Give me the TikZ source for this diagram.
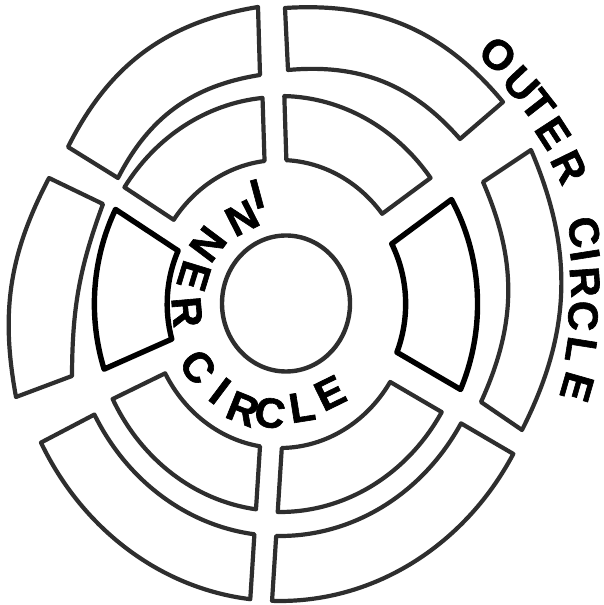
\documentclass[tikz,border=0pt]{standalone}
\usepackage{fontspec}
\setmainfont{Liberation Sans}
\newfontfamily\handfont{Liberation Sans}[BoldFeatures={FakeBold=1.5}]
\usetikzlibrary{shapes.geometric}
\newcommand\ringseg[5]{% #1 style, #2 start axis, #3 end axis, #4 inner r, #5 outer r
  \pgfmathsetmacro\segDi{asin(\segHalfGap/#4)}%
  \pgfmathsetmacro\segDo{asin(\segHalfGap/#5)}%
  \pgfmathsetmacro\segSa{#2+\segDi}\pgfmathsetmacro\segEa{#3-\segDi}%
  \pgfmathsetmacro\segSb{#2+\segDo}\pgfmathsetmacro\segEb{#3-\segDo}%
  \draw[#1] (\segSa:#4pt) -- (\segSb:#5pt)
    arc[start angle=\segSb, end angle=\segEb, radius=#5pt]
    -- (\segEa:#4pt)
    arc[start angle=\segEa, end angle=\segSa, radius=#4pt] -- cycle;}
\def\segHalfGap{12}
\begin{document}
\begin{tikzpicture}[x=1pt,y=1pt,
  seg/.style={draw=black!82, line width=4.2pt, line join=round},
  boldseg/.style={draw=black, line width=5.4pt, line join=round},
  hub/.style={draw=black!82, line width=4.4pt},
  letter/.style={font=\handfont\bfseries\fontsize{42}{42}\selectfont, inner sep=0pt, text=black}]
\useasboundingbox (0,0) rectangle (604,605);
\fill[white] (0,0) rectangle (604,605);
\begin{scope}[shift={(280,301)}, xscale=0.91]
  % outer ring (bottom)
  \ringseg{seg}{205.5}{266}{232}{297}
  \ringseg{seg}{266}{332}{232}{297}
  % inner ring
  \ringseg{seg}{34}{92}{144}{208}
  \ringseg{seg}{92}{149}{144}{207}
  \ringseg{boldseg}{149}{202}{124}{204}
  \ringseg{seg}{204}{266}{144}{207}
  \ringseg{seg}{266}{332}{144}{208}
\end{scope}
% top-left outer segment
\draw[seg] (118,427) -- (68,458) to[bend left=27] (258,598) -- (260,530)
  to[bend right=27] cycle;
% left outer segment
\draw[seg] (103,401) -- (49,427) to[bend right=19] (16,208) -- (72,229)
  to[bend left=10] cycle;
% top-right outer segment
\draw[seg] (288,535) -- (285,597) to[bend left=27] (503,503) -- (460,466)
  to[bend right=27] cycle;
% right outer segment
\draw[seg] (483,423) -- (531,455) to[bend left=25] (522,175) -- (481,203)
  to[bend right=24] cycle;
% right bold inner segment
\begin{scope}[shift={(291,301)}, xscale=0.91]
  \ringseg{boldseg}{-28}{34}{126}{205}
\end{scope}
\node[hub, ellipse, minimum width=128pt, minimum height=136pt] (hubc) at (286,301.5) {};
% INNER CIRCLE
\node[letter, rotate=195] (in1) at (257,411) {I};
\node[letter, rotate=207] (in2) at (242,387) {N};
\node[letter, rotate=233] (in3) at (208,361) {N};
\node[letter, rotate=253] (in4) at (194,329) {E};
\node[letter, rotate=275] (in5) at (187,293) {R};
\node[letter, rotate=306] (ic1) at (198,238) {C};
\node[letter, rotate=323] (ic2) at (220,214) {I};
\node[letter, rotate=338] (ic3) at (243,196) {R};
\node[letter, rotate=351] (ic4) at (270,192) {C};
\node[letter, rotate=9]   (ic5) at (302,198) {L};
\node[letter, rotate=26]  (ic6) at (330,212) {E};
% OUTER CIRCLE
\node[letter, rotate=-40] (ou1) at (498,550) {O};
\node[letter, rotate=-47] (ou2) at (521,521) {U};
\node[letter, rotate=-52] (ou3) at (538,500) {T};
\node[letter, rotate=-57] (ou4) at (553,472) {E};
\node[letter, rotate=-64] (ou5) at (569,438) {R};
\node[letter, rotate=-77] (oc1) at (584,373) {C};
\node[letter, rotate=-81] (oc2) at (585,350) {I};
\node[letter, rotate=-86] (oc3) at (585,323) {R};
\node[letter, rotate=-92] (oc4) at (583,289) {C};
\node[letter, rotate=-99] (oc5) at (581,255) {L};
\node[letter, rotate=-106] (oc6) at (577,218) {E};
\end{tikzpicture}
\end{document}
